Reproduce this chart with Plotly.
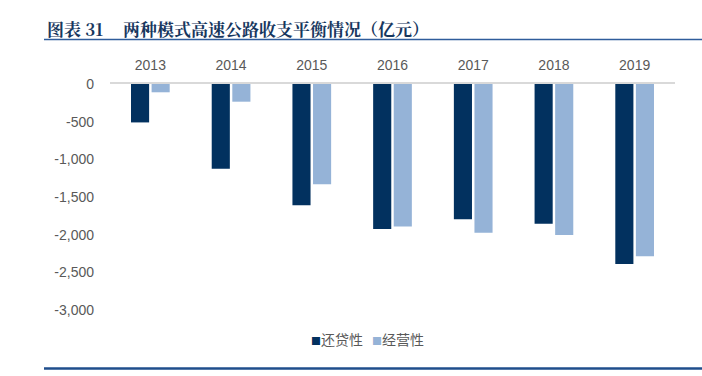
import plotly.graph_objects as go

years = ["2013", "2014", "2015", "2016", "2017", "2018", "2019"]
huandai = [-510, -1125, -1610, -1925, -1795, -1855, -2390]   # 还贷性
jingying = [-110, -235, -1330, -1890, -1975, -2005, -2285]   # 经营性
series_names = ["还贷性", "经营性"]
series_colors = ["#02315F", "#95B3D7"]
ytick_vals = [0, -500, -1000, -1500, -2000, -2500, -3000]
ytick_text = ["0", "-500", "-1,000", "-1,500", "-2,000", "-2,500", "-3,000"]
title_num = "图表 31"
title_text = "两种模式高速公路收支平衡情况（亿元）"

W, H = 702, 376
L, R, T, B = 110, 27, 84, 66
pw, ph = W - L - R, H - T - B

def px(x):
    return (x - L) / pw

def py(y):
    return (H - B - y) / ph

fig = go.Figure()
for name, vals, col in zip(series_names, [huandai, jingying], series_colors):
    fig.add_trace(go.Bar(x=years, y=vals, name=name, showlegend=False, hoverinfo="skip",
                         marker=dict(color=col, line=dict(width=0))))

tick_font = dict(family="Liberation Sans, Arial, sans-serif", size=14, color="#595959")
fig.update_layout(
    width=W, height=H,
    margin=dict(l=L, r=R, t=T, b=B),
    paper_bgcolor="white", plot_bgcolor="white",
    barmode="group", bargap=0.49, bargroupgap=0.12,
    font=tick_font,
    showlegend=False,
    xaxis=dict(side="top", showline=True, linecolor="#D9D9D9", linewidth=1.5,
               ticks="", showgrid=False, zeroline=False, tickfont=tick_font,
               ticklabelstandoff=7),
    yaxis=dict(range=[-3000, 0], tickvals=ytick_vals, ticktext=ytick_text,
               showgrid=False, zeroline=False, showline=False, ticks="",
               ticklabelstandoff=15, tickfont=tick_font),
)

title_font = dict(family="Noto Serif CJK SC, Noto Sans CJK SC", size=17, color="#17375E", weight="bold")
fig.add_annotation(xref="paper", yref="paper", x=px(45), y=py(28), xanchor="left", yanchor="middle",
                   text=title_num, showarrow=False, font=title_font)
fig.add_annotation(xref="paper", yref="paper", x=px(121), y=py(28), xanchor="left", yanchor="middle",
                   text=title_text, showarrow=False, font=title_font)

# legend drawn as text entries
leg_font = dict(family="Noto Sans CJK SC", size=14, color="#595959")
leg_x = [309, 370]
for name, col, lx in zip(series_names, series_colors, leg_x):
    fig.add_annotation(xref="paper", yref="paper", x=px(lx), y=py(339), xanchor="left", yanchor="middle",
                       text=f'<span style="color:{col};font-size:10px">■</span>{name}',
                       showarrow=False, font=leg_font)

fig.add_shape(type="line", xref="paper", yref="paper",
              x0=px(44), x1=px(702), y0=py(39.5), y1=py(39.5),
              line=dict(color="#2F5C9B", width=1.5))
fig.add_shape(type="line", xref="paper", yref="paper",
              x0=px(44), x1=px(702), y0=py(368.5), y1=py(368.5),
              line=dict(color="#1F4E8C", width=2.5))

fig.write_html("out.html", config={"displayModeBar": False},
               post_script="document.body.style.margin='0';document.body.style.padding='0';")
